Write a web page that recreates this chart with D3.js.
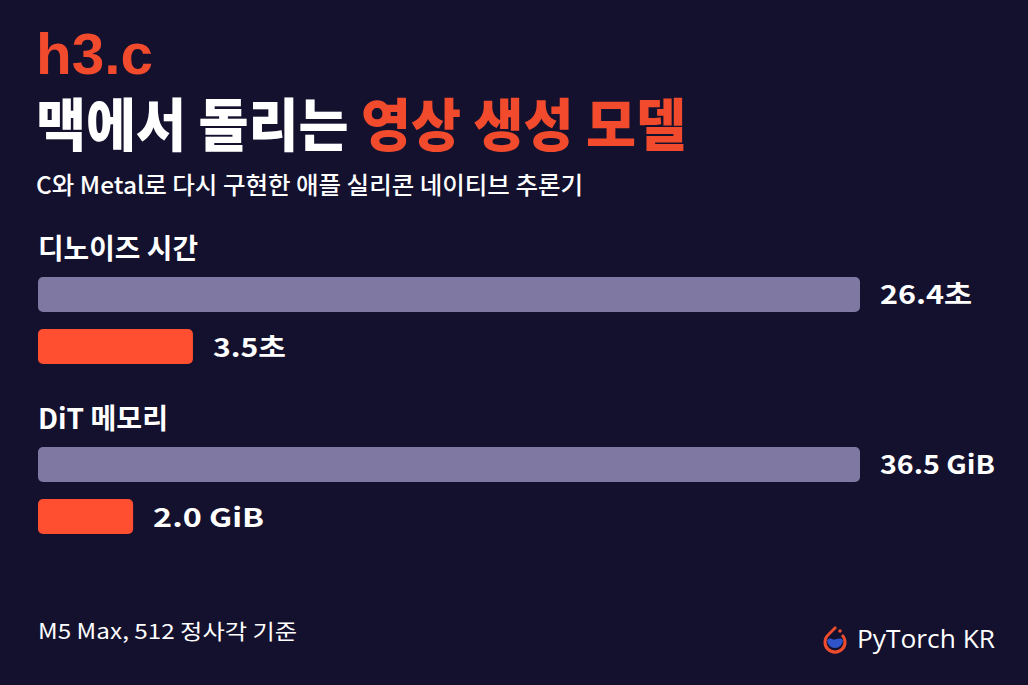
<!DOCTYPE html>
<html><head><meta charset="utf-8">
<script src="https://cdn.jsdelivr.net/npm/d3@7"></script>
<style>html,body{margin:0;padding:0;background:#13112e;}svg{display:block;}</style>
</head><body>
<svg id="c" width="1028" height="685"></svg>
<script>
const categories = ["디노이즈 시간", "DiT 메모리"];
const seriesNames = ["기존", "h3.c"];
const baselineValues = [26.4, 36.5];
const h3cValues = [3.5, 2.0];
const units = ["초", " GiB"];
const valueLabels = [["26.4초", "3.5초"], ["36.5 GiB", "2.0 GiB"]];

const W = 1028, H = 685;
const svg = d3.select("#c");
const KR = "'Noto Sans CJK KR','Noto Sans',sans-serif";
const RED = "#ff4e30", PURPLE = "#7f78a3";

svg.append("rect").attr("width", W).attr("height", H).attr("fill", "#13112e");

function fitText(sel, len) {
  sel.attr("textLength", len).attr("lengthAdjust", "spacingAndGlyphs");
  return sel;
}

// Title
fitText(svg.append("text").attr("x", 36).attr("y", 74)
  .attr("font-family", "'Liberation Sans',Arial,sans-serif").attr("font-weight", 700)
  .attr("font-size", 57).attr("fill", "#f24a2c").text("h3.c"), 117);

const t2 = svg.append("text").attr("x", 36).attr("y", 146)
  .attr("font-family", KR).attr("font-weight", 900).attr("font-size", 57).attr("fill", "#ffffff");
t2.append("tspan").text("맥에서 돌리는 ");
t2.append("tspan").attr("fill", "#f24a2c").text("영상 생성 모델");
fitText(t2, 650);

fitText(svg.append("text").attr("x", 36).attr("y", 194)
  .attr("font-family", KR).attr("font-weight", 500).attr("font-size", 24).attr("fill", "#ffffff")
  .text("C와 Metal로 다시 구현한 애플 실리콘 네이티브 추론기"), 547);

// Groups
const titleLens = [160, 130];
const labelLens = [[92, 73], [115, 111]];
const barX0 = 38;
const barH = 35;

categories.forEach((cat, i) => {
  const gy = 237 + i * 170;
  const maxV = baselineValues[i];
  const x = d3.scaleLinear().domain([0, maxV]).range([53, 822]);
  const g = svg.append("g");

  fitText(g.append("text").attr("x", 38).attr("y", gy + 22)
    .attr("font-family", KR).attr("font-weight", 700).attr("font-size", 28).attr("fill", "#ffffff")
    .text(cat), titleLens[i]);

  const y = d3.scaleBand().domain(seriesNames).range([gy + 40, gy + 40 + 2 * barH + 17]).paddingInner(0.33);
  const vals = [baselineValues[i], h3cValues[i]];
  const cols = [PURPLE, RED];
  vals.forEach((v, j) => {
    const yy = y(seriesNames[j]);
    g.append("rect").attr("x", barX0).attr("y", yy)
      .attr("width", x(v)).attr("height", y.bandwidth())
      .attr("rx", 5).attr("fill", cols[j]);
    fitText(g.append("text").attr("x", barX0 + x(v) + 20).attr("y", yy + y.bandwidth() / 2 + 10)
      .attr("font-family", KR).attr("font-weight", 700).attr("font-size", 26).attr("fill", "#ffffff")
      .text(valueLabels[i][j]), labelLens[i][j]);
  });
});

// Footer
fitText(svg.append("text").attr("x", 38).attr("y", 639)
  .attr("font-family", KR).attr("font-weight", 400).attr("font-size", 21).attr("fill", "#ffffff")
  .text("M5 Max, 512 정사각 기준"), 259);

fitText(svg.append("text").attr("x", 857).attr("y", 648)
  .attr("font-family", "'Open Sans','Noto Sans',sans-serif").attr("font-weight", 400).attr("font-size", 26).attr("fill", "#ffffff")
  .text("PyTorch KR"), 138);

// Logo
const lg = svg.append("g").attr("transform", "translate(835,639)");
lg.append("path").attr("d", "M0,-13 L-8,-5 A11.5,11.5 0 1 0 8,-5 L6,-3 A8.5,8.5 0 1 1 -6,-3 L2,-11 Z").attr("fill", "#ee4c2c");
lg.append("path").attr("d", "M-8,1 A8,8 0 0 0 8,1 C4,-3 0,2 -3,0 C-5,-1 -7,0 -8,1 Z").attr("fill", "#2f54c9");
lg.append("circle").attr("cx", 5).attr("cy", -8).attr("r", 1.8).attr("fill", "#ee4c2c");
</script>
</body></html>
